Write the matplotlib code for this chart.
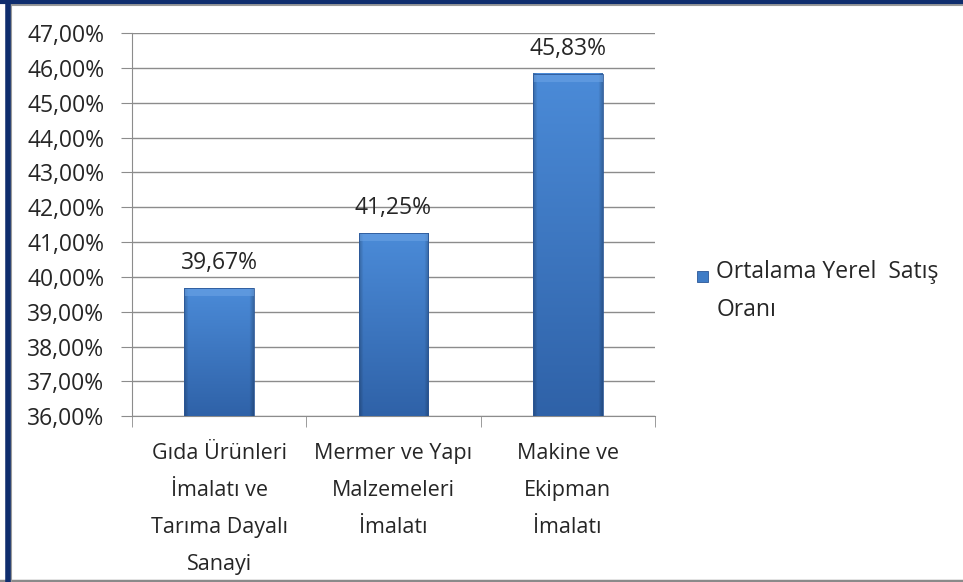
import numpy as np
import matplotlib.pyplot as plt
from matplotlib.colors import to_rgb
from matplotlib.patches import Rectangle
from matplotlib.ticker import FuncFormatter, MultipleLocator

plt.rcParams['font.family'] = ['Open Sans', 'DejaVu Sans']

categories = ['Gıda Ürünleri\nİmalatı ve\nTarıma Dayalı\nSanayi',
              'Mermer ve Yapı\nMalzemeleri\nİmalatı',
              'Makine ve\nEkipman\nİmalatı']
values = [39.67, 41.25, 45.83]
value_labels = ['39,67%', '41,25%', '45,83%']
series_name = 'Ortalama Yerel  Satış\nOranı'

TEXT = '#262626'
GRID = '#8c8c8c'

fig = plt.figure(figsize=(9.63, 5.82), dpi=100)
ax = fig.add_axes([0.137, 0.285, 0.543, 0.658])

# bar shading: lighter at the top, darker at the bottom, darker thin edges
top_c = np.array(to_rgb('#4b8bd8'))
bot_c = np.array(to_rgb('#2f62a8'))
ny, nx = 100, 70
t = np.linspace(0, 1, ny)[:, None]           # 0 bottom -> 1 top
vert = bot_c[None, :] * (1 - t) + top_c[None, :] * t
xs = np.linspace(-1, 1, nx)
edge = 1 - 0.22 * np.clip((np.abs(xs) - 0.88) / 0.12, 0, 1)

width = 0.4
ymin = 36
for i, v in enumerate(values):
    rgb = vert[:, None, :] * edge[None, :, None]
    ax.imshow(rgb, extent=(i - width / 2, i + width / 2, ymin, v), origin='lower',
              aspect='auto', zorder=3, interpolation='bilinear')
    # light bevel along the top edge
    ax.add_patch(Rectangle((i - width / 2, v - 0.22), width, 0.22, facecolor='#6ea5e6',
                           edgecolor='none', alpha=0.55, zorder=4))
    ax.add_patch(Rectangle((i - width / 2, ymin), width, v - ymin, fill=False,
                           edgecolor='#2b5797', lw=0.6, zorder=5))
    ax.annotate(value_labels[i], (i, v), xytext=(0, 18), textcoords='offset points',
                ha='center', va='center', fontsize=16.5, color=TEXT)

ax.set_xlim(-0.5, len(values) - 0.5)
ax.set_ylim(36, 47)
ax.yaxis.set_major_locator(MultipleLocator(1))
ax.yaxis.set_major_formatter(FuncFormatter(lambda y, _: f'{y:.2f}%'.replace('.', ',')))
ax.grid(axis='y', color=GRID, lw=1, zorder=0)
ax.set_axisbelow(True)

ax.set_xticks(np.arange(len(values)))
ax.set_xticklabels(categories, fontsize=15.5, linespacing=2.0, color=TEXT)
ax.set_xticks(np.arange(len(values) + 1) - 0.5, minor=True)
ax.tick_params(axis='x', which='major', length=0, pad=19)
ax.tick_params(axis='x', which='minor', length=8, color=GRID)
ax.tick_params(axis='y', length=8, color=GRID, labelsize=16.5, labelcolor=TEXT, pad=12)

for s in ['top', 'right']:
    ax.spines[s].set_visible(False)
for s in ['left', 'bottom']:
    ax.spines[s].set_color(GRID)

# legend
fig.patches.append(Rectangle((0.724, 0.515), 0.0115, 0.019, transform=fig.transFigure,
                             facecolor='#3f7cc6', edgecolor='#2b5797', lw=0.6))
fig.text(0.744, 0.553, series_name, fontsize=16.5, va='top', ha='left',
         linespacing=1.75, color=TEXT, transform=fig.transFigure)

# outer frame
fig.add_artist(plt.Line2D([0.0, 1.0], [0.0025, 0.0025], color='#8a8a8a', lw=2.5, transform=fig.transFigure))
fig.add_artist(plt.Line2D([0.0115, 0.0115], [0.0, 0.99], color='#9a9a9a', lw=1.5, transform=fig.transFigure))
fig.add_artist(plt.Line2D([0.011, 1.0], [0.9915, 0.9915], color='#9a9a9a', lw=1.5, transform=fig.transFigure))
fig.add_artist(plt.Line2D([0.0078, 0.0078], [0.0, 1.0], color='#0f2d6e', lw=4, transform=fig.transFigure))
fig.add_artist(plt.Line2D([0.0, 1.0], [0.997, 0.997], color='#0f2d6e', lw=3, transform=fig.transFigure))

fig.savefig('out.png', dpi=100)
